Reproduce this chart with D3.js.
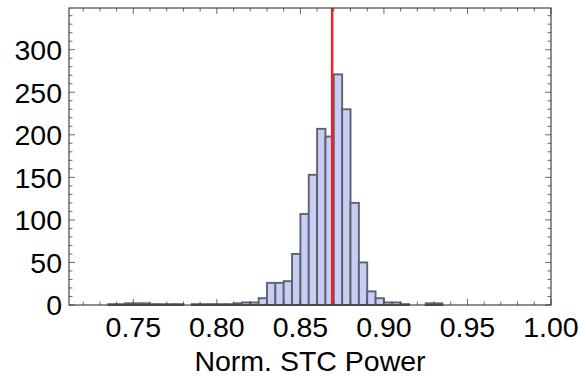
<!DOCTYPE html>
<html>
<head>
<meta charset="utf-8">
<script src="https://cdn.jsdelivr.net/npm/d3@7"></script>
<style>
  body { margin: 0; background: #fff; }
  text { font-family: "Liberation Sans", Arial, Helvetica, sans-serif; fill: #000; }
</style>
</head>
<body>
<div id="chart"></div>
<script>
// bin left edges (width 0.005) and counts
const binStarts = [0.735, 0.740, 0.745, 0.750, 0.755, 0.760, 0.765, 0.770, 0.775, 0.780,
    0.785, 0.790, 0.795, 0.800, 0.805, 0.810, 0.815, 0.820, 0.825, 0.830,
    0.835, 0.840, 0.845, 0.850, 0.855, 0.860, 0.865, 0.870, 0.875, 0.880,
    0.885, 0.890, 0.895, 0.900, 0.905, 0.910, 0.915, 0.920, 0.925, 0.930];
const counts = [1, 1, 2, 2, 2, 1, 1, 1, 1, 0,
    1, 1, 1, 1, 1, 2, 3, 3, 8, 26,
    26, 28, 60, 107, 153, 207, 198, 271, 230, 120,
    50, 16, 8, 3, 3, 1, 0, 0, 2, 2];
const binWidth = 0.005;
const refValue = 0.869;
const xTicks = [0.75, 0.80, 0.85, 0.90, 0.95, 1.00];
const yTicks = [0, 50, 100, 150, 200, 250, 300];

const W = 581, H = 376;
const margin = { top: 8, right: 30, bottom: 71, left: 69 };
const width = W - margin.left - margin.right;
const height = H - margin.top - margin.bottom;

const svg = d3.select("#chart").append("svg")
    .attr("width", W)
    .attr("height", H);

const g = svg.append("g").attr("transform", `translate(${margin.left},${margin.top})`);

const x = d3.scaleLinear().domain([0.7115, 1.0]).range([0, width]);
const y = d3.scaleLinear().domain([0, 349]).range([height, 0]);

const bins = binStarts.map((b, i) => ({ x0: b, x1: b + binWidth, n: counts[i] }));

// bars
g.selectAll(".bar")
    .data(bins.filter(d => d.n > 0))
    .enter().append("rect")
    .attr("x", d => x(d.x0))
    .attr("y", d => y(d.n))
    .attr("width", d => x(d.x1) - x(d.x0))
    .attr("height", d => y(0) - y(d.n))
    .attr("fill", "#c8cdf6")
    .attr("stroke", "#5e626d")
    .attr("stroke-width", 1.9);

// reference line
g.append("line")
    .attr("x1", x(refValue)).attr("x2", x(refValue))
    .attr("y1", 0).attr("y2", height)
    .attr("stroke", "#ff1a1a")
    .attr("stroke-width", 2.4);

// frame ticks (inward, on all four sides)
const xMinor = d3.range(72, 101).map(v => v / 100).filter(v => !xTicks.some(t => Math.abs(t - v) < 1e-9));
const yMinor = d3.range(0, 350, 10).filter(v => v % 50 !== 0);

function tickLines(vals, len, horizontal) {
    vals.forEach(v => {
        if (horizontal) {
            const px = x(v);
            g.append("line").attr("x1", px).attr("x2", px).attr("y1", height).attr("y2", height - len).attr("stroke", "#444").attr("stroke-width", 0.8);
            g.append("line").attr("x1", px).attr("x2", px).attr("y1", 0).attr("y2", len).attr("stroke", "#444").attr("stroke-width", 0.8);
        } else {
            const py = y(v);
            g.append("line").attr("x1", 0).attr("x2", len).attr("y1", py).attr("y2", py).attr("stroke", "#444").attr("stroke-width", 0.8);
            g.append("line").attr("x1", width).attr("x2", width - len).attr("y1", py).attr("y2", py).attr("stroke", "#444").attr("stroke-width", 0.8);
        }
    });
}
tickLines(xTicks, 6, true);
tickLines(xMinor, 3.5, true);
tickLines(yTicks, 6, false);
tickLines(yMinor, 3.5, false);

// frame
g.append("rect")
    .attr("x", 0).attr("y", 0)
    .attr("width", width).attr("height", height)
    .attr("fill", "none")
    .attr("stroke", "#333")
    .attr("stroke-width", 1.1);

// tick labels
g.selectAll(".xlab")
    .data(xTicks)
    .enter().append("text")
    .attr("x", d => x(d))
    .attr("y", height + 32)
    .attr("text-anchor", "middle")
    .style("font-size", "28.5px")
    .text(d => d3.format(".2f")(d));

g.selectAll(".ylab")
    .data(yTicks)
    .enter().append("text")
    .attr("x", -7)
    .attr("y", d => y(d))
    .attr("dy", "0.36em")
    .attr("text-anchor", "end")
    .style("font-size", "28.5px")
    .text(d => d);

// axis label
svg.append("text")
    .attr("x", margin.left + width / 2)
    .attr("y", 371)
    .attr("text-anchor", "middle")
    .style("font-size", "28.5px")
    .text("Norm. STC Power");
</script>
</body>
</html>
